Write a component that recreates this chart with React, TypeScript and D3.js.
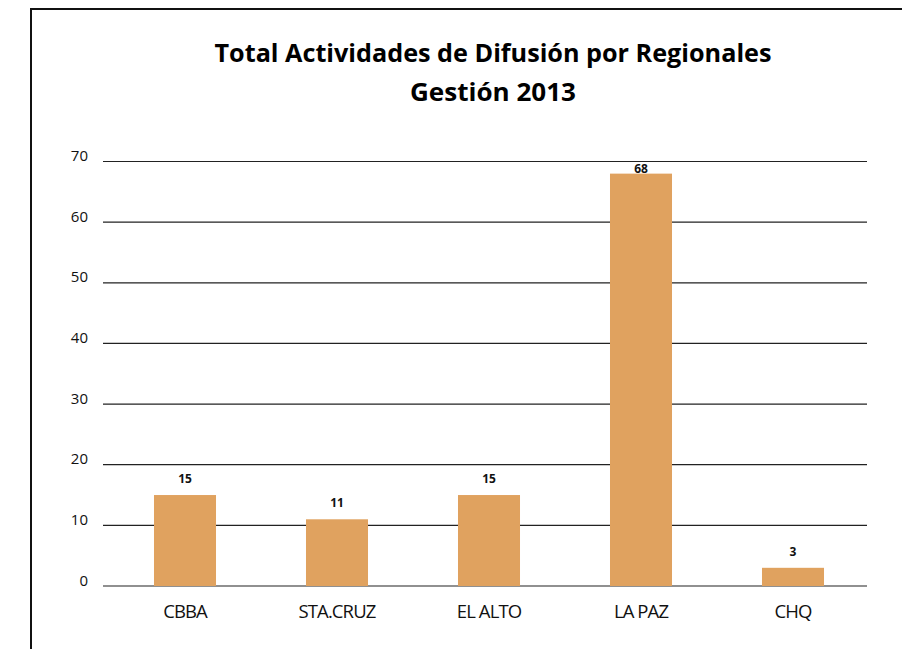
import React from "react";
import * as d3 from "d3";

const categories = ["CBBA", "STA.CRUZ", "EL ALTO", "LA PAZ", "CHQ"];
const values = [15, 11, 15, 68, 3];
const yTicks = [0, 10, 20, 30, 40, 50, 60, 70];
const titleLines = ["Total Actividades de Difusión por Regionales", "Gestión 2013"];

const W = 902;
const H = 649;
const FONT = "'Open Sans', 'Noto Sans', sans-serif";

export default function App() {
  const x = d3.scaleBand<string>().domain(categories).range([109, 869]).paddingInner(0.592).paddingOuter(0.296);
  const y = d3.scaleLinear().domain([0, 70]).range([586, 161.5]);

  return (
    <svg width={W} height={H} style={{ position: "absolute", left: 0, top: 0, background: "#fff" }} fontFamily={FONT}>
      <rect x={0} y={0} width={W} height={H} fill="#fff" />
      <rect x={31} y={9} width={1000} height={1000} fill="none" stroke="#111" strokeWidth={2} />
      <text x={493} y={62} textAnchor="middle" fontSize={25} fontWeight={700} fill="#000" textLength={557} lengthAdjust="spacingAndGlyphs">{titleLines[0]}</text>
      <text x={493} y={101} textAnchor="middle" fontSize={25} fontWeight={700} fill="#000" textLength={166} lengthAdjust="spacingAndGlyphs">{titleLines[1]}</text>
      {yTicks.map((t) => (
        <g key={t}>
          <line x1={103} x2={867} y1={y(t)} y2={y(t)} stroke="#222" strokeWidth={1.2} />
          <text x={88} y={y(t) - 0.5} textAnchor="end" fontSize={15} fill="#111">{t}</text>
        </g>
      ))}
      {categories.map((c, i) => {
        const v = values[i];
        const top = y(v);
        const ly = Math.max(top - 12, y(70) + 11);
        return (
          <g key={c}>
            <rect x={x(c)!} y={top} width={x.bandwidth()} height={y(0) - top} fill="#E0A25F" />
            <text x={x(c)! + x.bandwidth() / 2} y={ly} textAnchor="middle" fontSize={12} fontWeight={700} fill="#111">{v}</text>
            <text x={x(c)! + x.bandwidth() / 2} y={618} textAnchor="middle" fontSize={18.5} fill="#111" letterSpacing={-0.9}>{c}</text>
          </g>
        );
      })}
    </svg>
  );
}
